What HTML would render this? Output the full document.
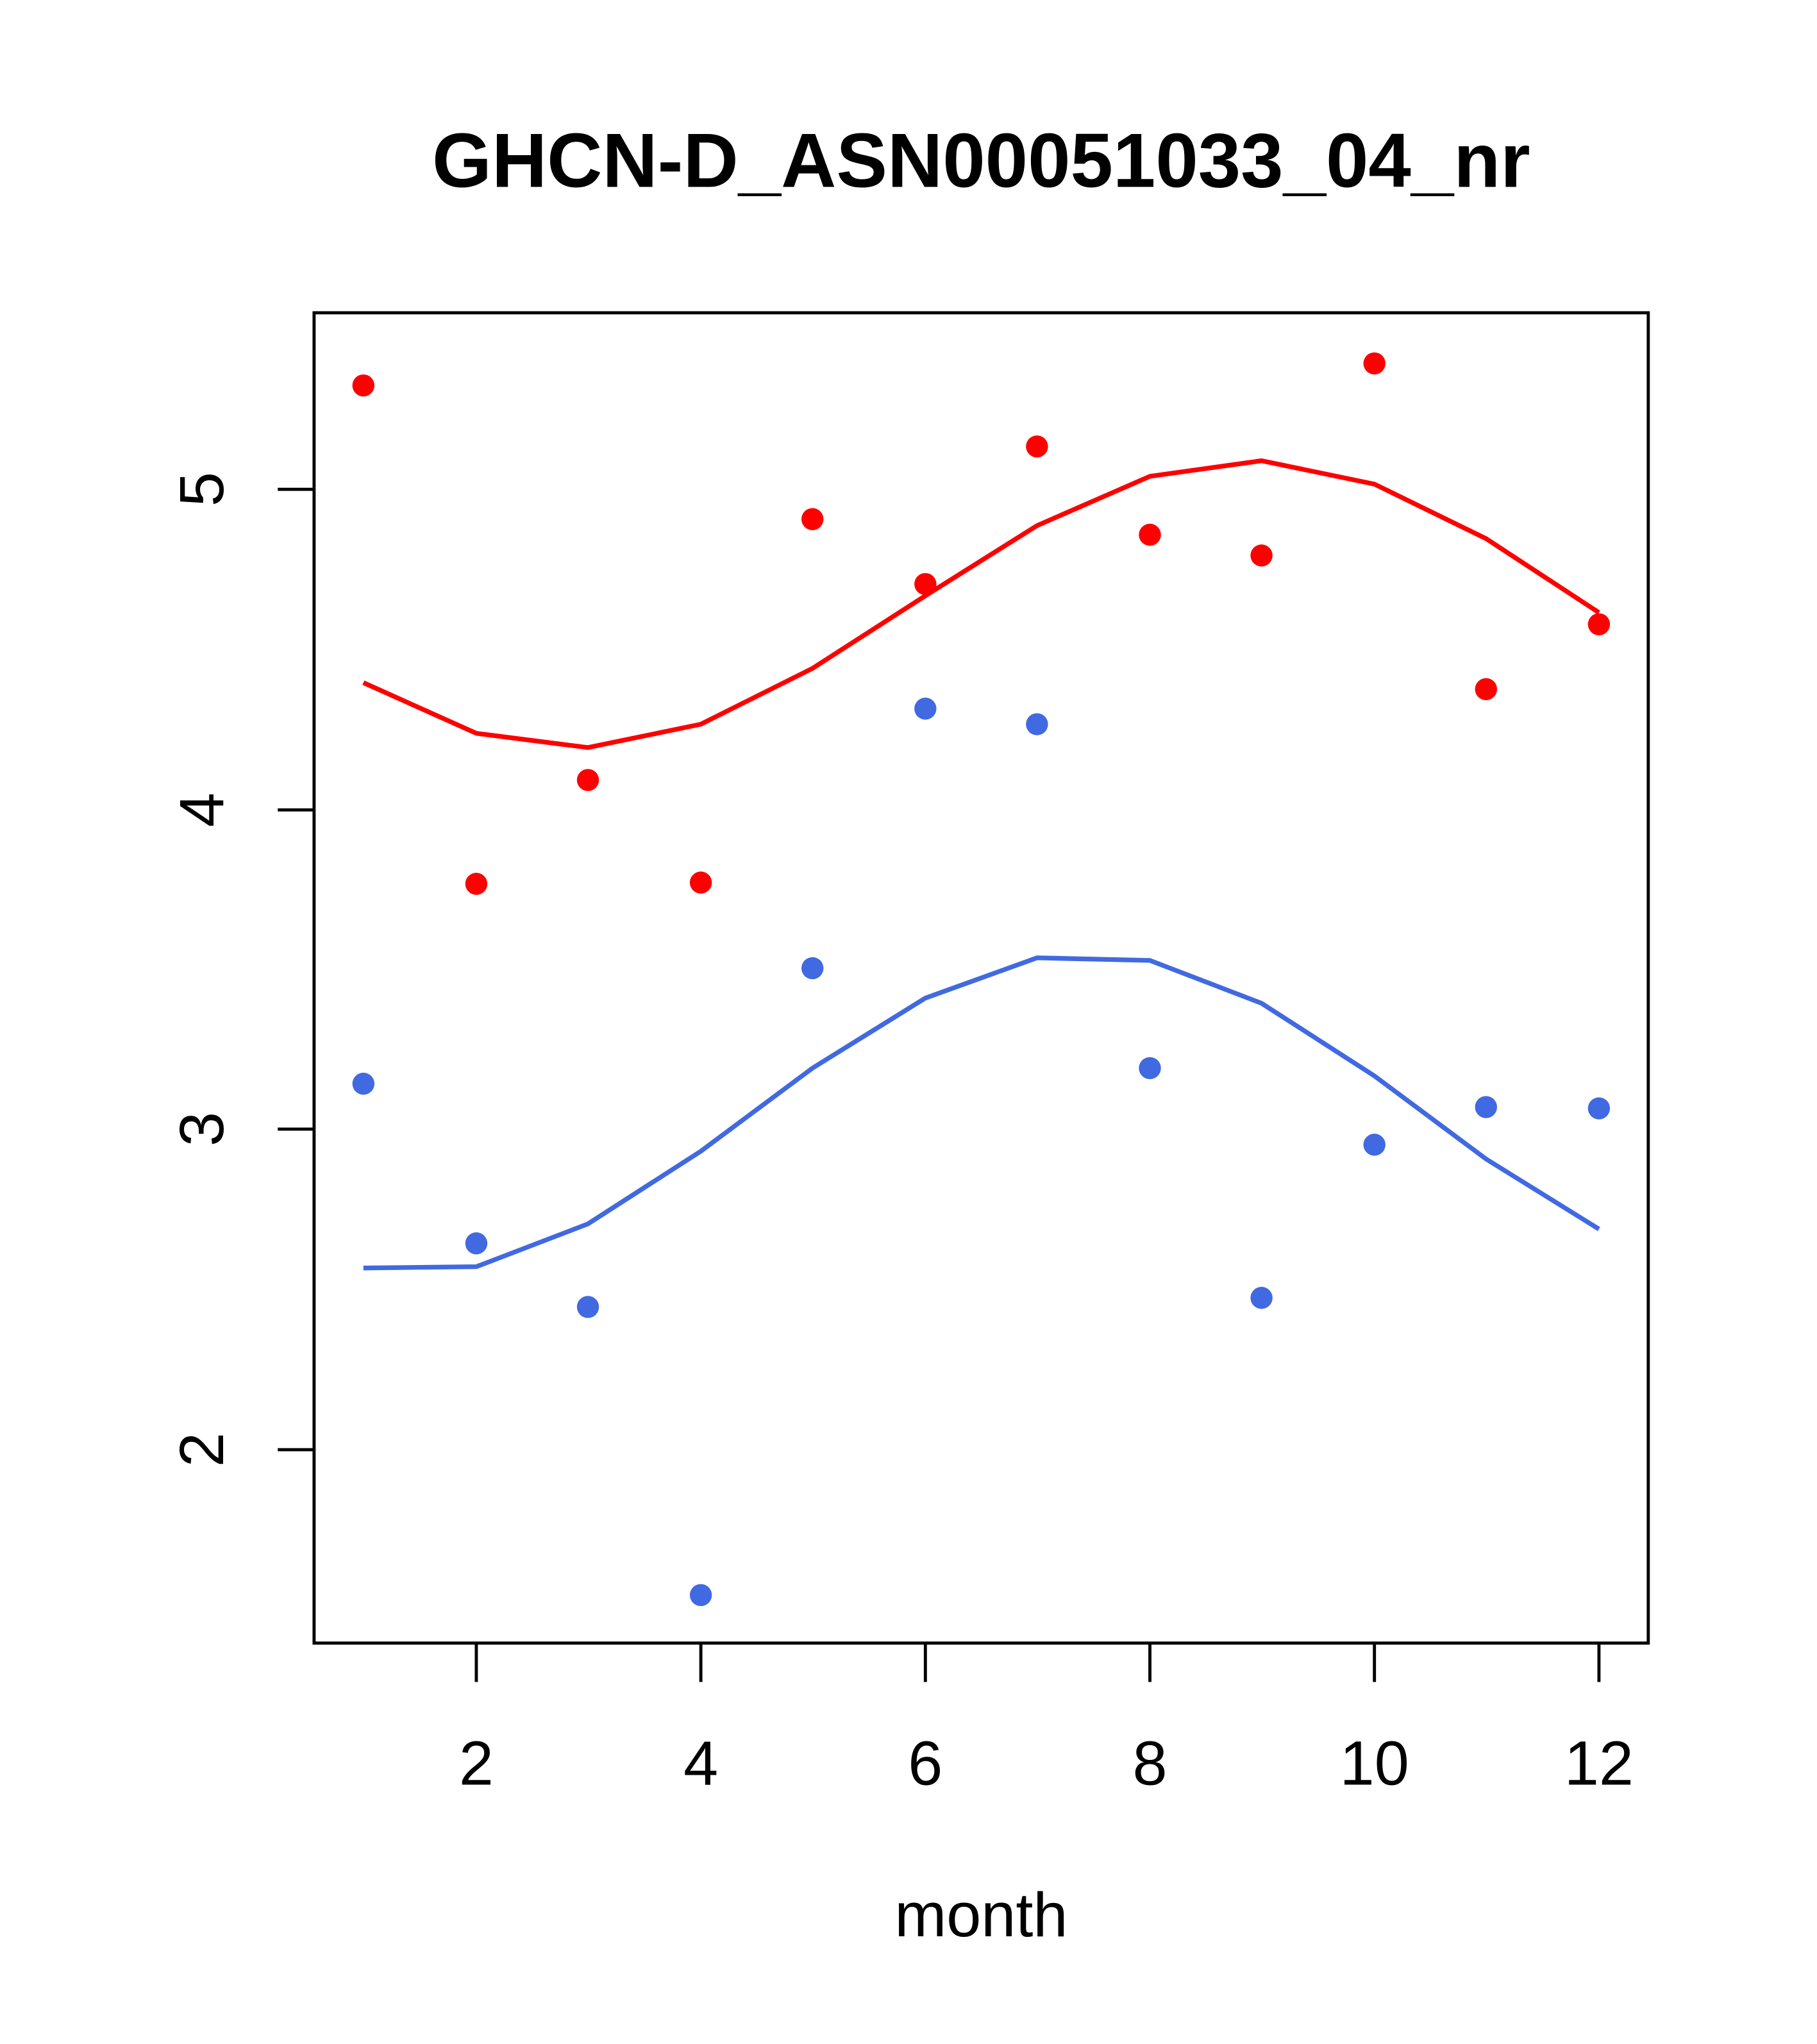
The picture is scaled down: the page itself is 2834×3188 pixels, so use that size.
<!DOCTYPE html>
<html><head><style>html,body{margin:0;padding:0;background:#fff}svg{display:block}</style></head>
<body>
<svg width="2834" height="3188" viewBox="0 0 1400 1574.9" xmlns="http://www.w3.org/2000/svg" font-family="Liberation Sans, sans-serif">
<rect width="1400" height="1575" fill="#fff"/>
<text x="756" y="144" text-anchor="middle" font-size="59" font-weight="bold">GHCN-D_ASN00051033_04_nr</text>
<rect x="242" y="241" width="1028" height="1025" fill="none" stroke="#000" stroke-width="2.4"/>
<g stroke="#000" stroke-width="2.4">
<line x1="242" y1="377" x2="214" y2="377"/><line x1="242" y1="624" x2="214" y2="624"/>
<line x1="242" y1="870" x2="214" y2="870"/><line x1="242" y1="1117" x2="214" y2="1117"/>
<line x1="367" y1="1266" x2="367" y2="1296"/><line x1="540" y1="1266" x2="540" y2="1296"/>
<line x1="713" y1="1266" x2="713" y2="1296"/><line x1="886" y1="1266" x2="886" y2="1296"/>
<line x1="1059" y1="1266" x2="1059" y2="1296"/><line x1="1232" y1="1266" x2="1232" y2="1296"/>
</g>
<g font-size="48" text-anchor="middle">
<text transform="translate(172,377) rotate(-90)">5</text>
<text transform="translate(172,624) rotate(-90)">4</text>
<text transform="translate(172,870) rotate(-90)">3</text>
<text transform="translate(172,1117) rotate(-90)">2</text>
<text x="367" y="1375">2</text><text x="540" y="1375">4</text><text x="713" y="1375">6</text>
<text x="886" y="1375">8</text><text x="1059" y="1375">10</text><text x="1232" y="1375">12</text>
<text x="756" y="1492">month</text>
</g>
<polyline fill="none" stroke="#ff0000" stroke-width="3.6" points="280,526 367,565 453,576 540,558 626,515 713,459 799,405 886,367 972,355 1059,373 1145,415 1232,472"/>
<polyline fill="none" stroke="#4169e1" stroke-width="3.6" points="280,977 367,976 453,943 540,887 626,823 713,769 799,738 886,740 972,773 1059,829 1145,893 1232,947"/>
<g fill="#ff0000">
<circle cx="280" cy="297" r="8.5"/><circle cx="367" cy="681" r="8.5"/><circle cx="453" cy="601" r="8.5"/><circle cx="540" cy="680" r="8.5"/><circle cx="626" cy="400" r="8.5"/><circle cx="713" cy="450" r="8.5"/><circle cx="799" cy="344" r="8.5"/><circle cx="886" cy="412" r="8.5"/><circle cx="972" cy="428" r="8.5"/><circle cx="1059" cy="280" r="8.5"/><circle cx="1145" cy="531" r="8.5"/><circle cx="1232" cy="481" r="8.5"/>
</g>
<g fill="#4169e1">
<circle cx="280" cy="835" r="8.5"/><circle cx="367" cy="958" r="8.5"/><circle cx="453" cy="1007" r="8.5"/><circle cx="540" cy="1229" r="8.5"/><circle cx="626" cy="746" r="8.5"/><circle cx="713" cy="546" r="8.5"/><circle cx="799" cy="558" r="8.5"/><circle cx="886" cy="823" r="8.5"/><circle cx="972" cy="1000" r="8.5"/><circle cx="1059" cy="882" r="8.5"/><circle cx="1145" cy="853" r="8.5"/><circle cx="1232" cy="854" r="8.5"/>
</g>
</svg>
</body></html>
